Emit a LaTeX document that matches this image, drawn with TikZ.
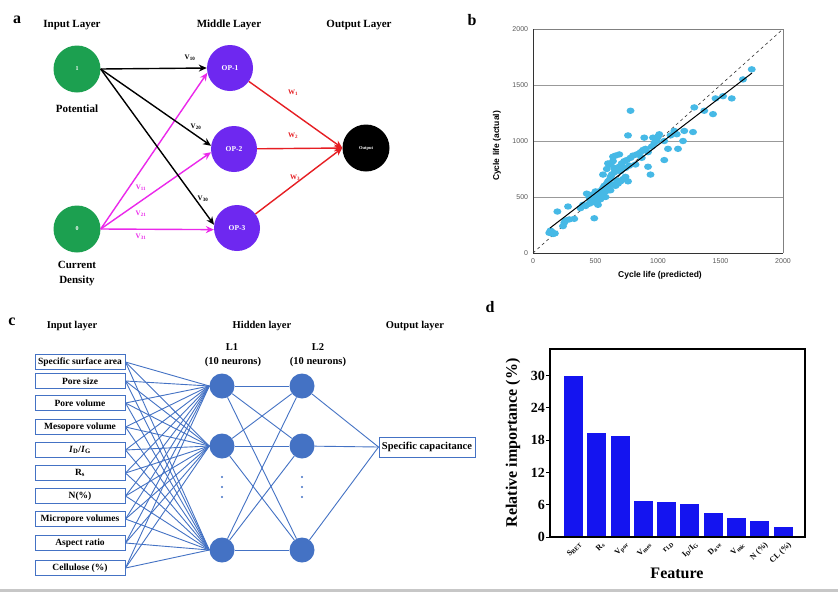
\documentclass[tikz,border=0pt]{standalone}
\usepackage{fontspec}
\setmainfont{Liberation Serif}
\setsansfont{Liberation Sans}
\usetikzlibrary{arrows.meta}
\definecolor{ngreen}{RGB}{28,160,80}
\definecolor{npurple}{RGB}{110,40,240}
\definecolor{nred}{RGB}{230,30,35}
\definecolor{nmag}{RGB}{235,40,235}
\definecolor{cblue}{RGB}{68,114,196}
\definecolor{bblue}{RGB}{20,20,240}
\definecolor{scyan}{RGB}{70,185,230}
\tikzset{
  panel/.style={font=\bfseries\fontsize{16}{16}\selectfont},
  hdr/.style={font=\bfseries\fontsize{11}{15}\selectfont},
  innode/.style={circle, fill=ngreen, minimum size=47pt, inner sep=0pt, text=white, font=\bfseries\fontsize{6}{6}\selectfont},
  midnode/.style={circle, fill=npurple, minimum size=46pt, inner sep=0pt, text=white, font=\bfseries\fontsize{7.5}{8}\selectfont},
  outnode/.style={circle, fill=black, minimum size=47pt, inner sep=0pt, text=white, font=\bfseries\fontsize{4.5}{5}\selectfont},
  arr/.style={-{Stealth[length=8pt,width=7pt]}, line width=1.4pt},
  wlab/.style={font=\bfseries\fontsize{7}{7}\selectfont},
  tlab/.style={font=\sffamily\fontsize{7}{7}\selectfont, text=black!65},
  atitle/.style={font=\sffamily\bfseries\fontsize{8.5}{9}\selectfont},
  chdr/.style={font=\bfseries\fontsize{10.5}{12}\selectfont},
  ibox/.style={draw=cblue, line width=1pt, minimum width=90pt, minimum height=15pt, inner sep=1pt, font=\bfseries\fontsize{9.5}{10}\selectfont},
  neuron/.style={circle, fill=cblue, minimum size=25pt, inner sep=0pt},
  cline/.style={cblue, line width=0.9pt},
  dlab/.style={font=\bfseries\fontsize{14}{14}\selectfont},
  xlab/.style={font=\bfseries\fontsize{8}{8}\selectfont, rotate=45, anchor=north east, inner sep=0.5pt},
}
\begin{document}
\begin{tikzpicture}[x=1pt,y=-1pt]
\useasboundingbox (0,0) rectangle (838,592);
\fill[white] (0,0) rectangle (838,592);
\fill[black!22] (0,589) rectangle (838,592);

% ---------------- panel a ----------------
\node[panel] (la) at (17,20) {a};
\node[hdr] (ha1) at (72,25) {Input Layer};
\node[hdr] (ha2) at (229,25) {Middle Layer};
\node[hdr] (ha3) at (359,25) {Output Layer};
\node[innode] (n1) at (77,69) {1};
\node[hdr] (pot) at (77,109) {Potential};
\node[innode] (n0) at (77,229) {0};
\node[hdr, align=center] (cd) at (77,274) {Current\\Density};
\node[midnode] (op1) at (230,68) {OP-1};
\node[midnode] (op2) at (234,149) {OP-2};
\node[midnode] (op3) at (237,228) {OP-3};
\node[outnode] (out) at (366,148) {Output};
\draw[arr, nmag] (n0.east) -- (op1.192);
\draw[arr, nmag] (n0.east) -- (op2.188);
\draw[arr, nmag] (n0.east) -- (op3.184);
\draw[arr, black] (n1.east) -- (op1.west);
\draw[arr, black] (n1.east) -- (op2.172);
\draw[arr, black] (n1.east) -- (op3.172);
\draw[arr, nred] (op1) -- (out.west);
\draw[arr, nred] (op2) -- (out.west);
\draw[arr, nred] (op3) -- (out.west);
\node[wlab] (v10) at (190,58) {V\textsubscript{10}};
\node[wlab] (v20) at (196,127) {V\textsubscript{20}};
\node[wlab] (v30) at (203,199) {V\textsubscript{30}};
\node[wlab, text=nmag] (v11) at (141,188) {V\textsubscript{11}};
\node[wlab, text=nmag] (v21) at (141,214) {V\textsubscript{21}};
\node[wlab, text=nmag] (v31) at (141,237) {V\textsubscript{31}};
\node[wlab, text=nred] (w1) at (293,93) {W\textsubscript{1}};
\node[wlab, text=nred] (w2) at (293,136) {W\textsubscript{2}};
\node[wlab, text=nred] (w3) at (295,178) {W\textsubscript{3}};

% ---------------- panel b ----------------
\node[panel] (lb) at (472,20) {b};
\begin{scope}[shift={(533,253)}, x=0.125pt, y=0.112pt]
  \foreach \v in {500,1000,1500} \draw[black!40, line width=0.9pt] (0,\v) -- (2000,\v);
  \draw[black!50, line width=0.7pt] (0,2000) -- (2000,2000) -- (2000,0);
  \draw[black!80, line width=0.8pt] (0,2000) -- (0,0) -- (2000,0);
  \foreach \v in {0,500,1000,1500,2000} {
    \node[tlab, anchor=east, inner sep=1pt] at (-30,\v) {\v};
    \node[tlab, anchor=north, inner sep=1pt] at (\v,-40) {\v};
  }
  \draw[black!80, dashed, line width=0.6pt] (0,0) -- (2000,2000);
  \foreach \px/\py in {130/180,150/190,160/170,175/175,140/200,195/370,240/240,250/270,290/300,330/305,280/415,260/290,380/400,420/420,430/530,400/430,450/440,460/470,470/450,480/460,490/480,500/500,510/450,520/470,530/550,540/520,550/560,560/580,570/600,580/550,590/620,600/640,610/560,620/680,630/700,640/610,650/720,660/740,670/650,680/620,700/640,720/660,740/680,760/640,620/790,640/820,660/870,650/760,690/770,710/800,730/820,750/830,770/780,780/850,800/870,820/790,840/880,860/900,880/920,900/930,920/900,950/950,970/980,990/1000,1000/1040,960/1030,980/1020,1010/1060,890/1030,1080/930,1160/930,1050/830,920/770,940/700,760/1050,780/1270,1130/1090,1150/1060,1200/1000,1210/1090,1280/1080,1290/1300,1370/1270,1440/1240,1460/1380,1520/1400,1590/1380,1680/1550,1750/1640,490/310,500/550,540/480,560/520,600/590,620/560,580/500,470/520,700/730,740/760,830/880,870/850,1100/1050,1050/1000,560/700,590/750,600/800,640/860,690/880,450/500,520/430,610/650,660/600}
    \fill[scyan] (\px,\py) ellipse [x radius=4pt, y radius=3.2pt];
  \coordinate (r0) at (136,223);
  \coordinate (r1) at (1752,1607);
  \draw[black, line width=1pt] (r0) -- (r1);
\end{scope}
\node[atitle] (bxt) at (660,275) {Cycle life (predicted)};
\node[atitle, rotate=90] (byt) at (497,146) {Cycle life (actual)};

% ---------------- panel c ----------------
\node[panel] (lc) at (12,322) {c};
\node[chdr] (hc1) at (72,326) {Input layer};
\node[chdr] (hc2) at (262,326) {Hidden layer};
\node[chdr] (hc3) at (415,326) {Output layer};
\node[chdr] (l1t) at (232,347) {L1};
\node[chdr] (l1n) at (233,362) {(10 neurons)};
\node[chdr] (l2t) at (318,347) {L2};
\node[chdr] (l2n) at (318,362) {(10 neurons)};
\node[neuron] (a1) at (222,386) {};
\node[neuron] (a2) at (222,446) {};
\node[neuron] (a3) at (222,550) {};
\node[neuron] (b1) at (302,386) {};
\node[neuron] (b2) at (302,446) {};
\node[neuron] (b3) at (302,550) {};
\foreach \yy in {477,487,497} {
  \fill[cblue] (222,\yy) circle (1.2pt);
  \fill[cblue] (302,\yy) circle (1.2pt);
}
\node[ibox, minimum width=96pt, minimum height=20pt, font=\bfseries\fontsize{10.5}{11}\selectfont] (oc) at (427,447) {Specific capacitance};
\node[ibox] (i1) at (80,362) {Specific surface area};
\node[ibox] (i2) at (80,381) {Pore size};
\node[ibox] (i3) at (80,403) {Pore volume};
\node[ibox] (i4) at (80,427) {Mesopore volume};
\node[ibox] (i5) at (80,450) {\textit{I}\textsubscript{D}/\textit{I}\textsubscript{G}};
\node[ibox] (i6) at (80,473) {R\textsubscript{s}};
\node[ibox] (i7) at (80,496) {N(\%)};
\node[ibox] (i8) at (80,519) {Micropore volumes};
\node[ibox] (i9) at (80,543) {Aspect ratio};
\node[ibox] (i10) at (80,568) {Cellulose (\%)};
\foreach \i in {1,...,10} {
  \foreach \h in {a1,a2,a3} \draw[cline] (i\i.east) -- (\h.west);
}
\foreach \h in {a1,a2,a3} {
  \foreach \g in {b1,b2,b3} \draw[cline] (\h) -- (\g);
}
\foreach \g in {b1,b2,b3} \draw[cline] (\g) -- (oc.west);

% ---------------- panel d ----------------
\node[panel] (ld) at (490,307) {d};
\begin{scope}[shift={(550,537)}, x=1pt, y=5.38pt]
  \foreach \c/\v in {23.5/30, 46.8/19.4, 70.1/18.7, 93.3/6.6, 116.6/6.5, 139.9/6.1, 163.2/4.4, 186.5/3.5, 209.7/3.0, 233/1.8}
    \fill[bblue] (\c-9.5,0) rectangle (\c+9.5,\v);
  \draw[black, line width=1.6pt] (0,0) rectangle (255,35);
  \foreach \v in {0,6,12,18,24,30} {
    \draw[black, line width=1pt] (0,\v) -- (-4,\v);
    \node[dlab, anchor=east, inner sep=1pt] at (-4,\v) {\v};
  }
  \node[xlab] (x1) at (28,-0.6) {S\textsubscript{BET}};
  \node[xlab] (x2) at (51.3,-0.6) {R\textsubscript{s}};
  \node[xlab] (x3) at (74.6,-0.6) {V\textsubscript{por}};
  \node[xlab] (x4) at (97.8,-0.6) {V\textsubscript{mes}};
  \node[xlab] (x5) at (121.1,-0.6) {r\textsubscript{LD}};
  \node[xlab] (x6) at (144.4,-0.6) {I\textsubscript{D}/I\textsubscript{G}};
  \node[xlab] (x7) at (167.7,-0.6) {D\textsubscript{ave}};
  \node[xlab] (x8) at (191,-0.6) {V\textsubscript{mic}};
  \node[xlab] (x9) at (214.2,-0.6) {N (\%)};
  \node[xlab] (x10) at (237.5,-0.6) {CL (\%)};
\end{scope}
\node[font=\bfseries\fontsize{16}{16}\selectfont, rotate=90] (dyt) at (513,443) {Relative importance (\%)};
\node[font=\bfseries\fontsize{16}{16}\selectfont] (dxt) at (677,573) {Feature};
\end{tikzpicture}
\end{document}
